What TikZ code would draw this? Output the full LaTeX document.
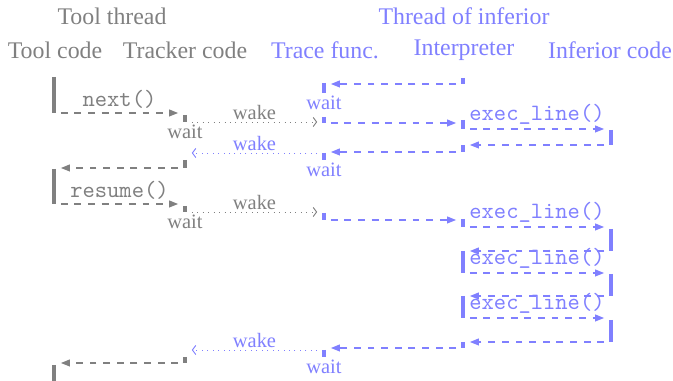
\documentclass[tikz,border=0pt]{standalone}
\usepackage{fontspec}
\setmainfont{Liberation Serif}
\usetikzlibrary{arrows.meta}
\definecolor{toolgray}{RGB}{128,128,128}
\definecolor{infblue}{RGB}{128,128,255}
\tikzset{
  actbar/.style={line width=1.5pt},
  callmsg/.style={dashed,semithick,-{Triangle[length=4pt,width=3pt]},
    shorten <=3pt,shorten >=3pt},
  wakemsg/.style={dotted,-{Straight Barb[length=1.5pt,width=4pt]},
    shorten <=3pt,shorten >=3pt},
  header/.style={font=\fontsize{10.5}{12}\selectfont},
  fname/.style={font=\ttfamily\fontsize{10.3}{12}\selectfont,above,inner sep=1.5pt},
  msglbl/.style={font=\small,above,inner sep=1pt},
  waitlbl/.style={font=\small,anchor=north,inner sep=1pt}
}
\begin{document}
\begin{tikzpicture}[x=0.44pt,y=-0.44pt]
  \useasboundingbox (0,0) rectangle (673,381);
  % headers
  \node[header,toolgray] (tt) at (112,16) {Tool thread};
  \node[header,infblue] (it) at (464,16) {Thread of inferior};
  \node[header,toolgray] (hT) at (55,50) {Tool code};
  \node[header,toolgray] (hK) at (185,50) {Tracker code};
  \node[header,infblue] (hF) at (325,50) {Trace func.};
  \node[header,infblue] (hI) at (464,50) {Interpreter};
  \node[header,infblue] (hC) at (610,50) {Inferior code};
  % activations
  \coordinate (t1a) at (54,77);  \coordinate (t1b) at (54,113);
  \coordinate (t2a) at (54,169); \coordinate (t2b) at (54,204);
  \coordinate (t3a) at (54,365); \coordinate (t3b) at (54,381);
  \coordinate (k1a) at (185,115); \coordinate (k1b) at (185,122);
  \coordinate (k2a) at (185,160); \coordinate (k2b) at (185,168);
  \coordinate (k3a) at (185,206); \coordinate (k3b) at (185,212);
  \coordinate (k4a) at (185,357); \coordinate (k4b) at (185,363);
  \coordinate (f1a) at (324,83);  \coordinate (f1b) at (324,93);
  \coordinate (f2a) at (324,117); \coordinate (f2b) at (324,123);
  \coordinate (f3a) at (324,153); \coordinate (f3b) at (324,160);
  \coordinate (f4a) at (324,213); \coordinate (f4b) at (324,220);
  \coordinate (f5a) at (324,350); \coordinate (f5b) at (324,357);
  \coordinate (i0a) at (463,78);  \coordinate (i0b) at (463,84);
  \coordinate (i1a) at (463,120); \coordinate (i1b) at (463,129);
  \coordinate (i2a) at (463,145); \coordinate (i2b) at (463,152);
  \coordinate (i3a) at (463,219); \coordinate (i3b) at (463,227);
  \coordinate (i4a) at (463,251); \coordinate (i4b) at (463,273);
  \coordinate (i5a) at (463,296); \coordinate (i5b) at (463,318);
  \coordinate (i6a) at (463,342); \coordinate (i6b) at (463,348);
  \coordinate (c1a) at (611,130); \coordinate (c1b) at (611,145);
  \coordinate (c2a) at (611,229); \coordinate (c2b) at (611,251);
  \coordinate (c3a) at (611,274); \coordinate (c3b) at (611,296);
  \coordinate (c4a) at (611,320); \coordinate (c4b) at (611,342);
  \begin{scope}[toolgray]
    \foreach \b in {t1,t2,t3,k1,k2,k3,k4}
      \draw[actbar] (\b a) -- (\b b);
    \draw[callmsg] (t1b) -- (t1b -| k1a) node[fname,midway] (n1) {next()};
    \draw[wakemsg] (k1b) -- (k1b -| f2a) node[msglbl,midway] (w1) {wake};
    \draw[callmsg] (k2b) -- (k2b -| t2a);
    \draw[callmsg] (t2b) -- (t2b -| k3a) node[fname,midway] (n2) {resume()};
    \draw[wakemsg] (k3b) -- (k3b -| f4a) node[msglbl,midway] (w3) {wake};
    \draw[callmsg] (k4b) -- (k4b -| t3a);
    \node[waitlbl] (s1) at (k1b) {wait};
    \node[waitlbl] (s2) at (k3b) {wait};
  \end{scope}
  \begin{scope}[infblue]
    \foreach \b in {f1,f2,f3,f4,f5,i0,i1,i2,i3,i4,i5,i6,c1,c2,c3,c4}
      \draw[actbar] (\b a) -- (\b b);
    \draw[callmsg] (i0b) -- (i0b -| f1a);
    \draw[callmsg] (f2b) -- (f2b -| i1a);
    \draw[callmsg] (i1b) -- (i1b -| c1a) node[fname,midway] (e1) {exec\_line()};
    \draw[callmsg] (c1b) -- (c1b -| i2a);
    \draw[callmsg] (i2b) -- (i2b -| f3a);
    \draw[wakemsg] (f3a) -- (f3a -| k2a) node[msglbl,midway] (w2) {wake};
    \draw[callmsg] (f4b) -- (f4b -| i3a);
    \draw[callmsg] (i3b) -- (i3b -| c2a) node[fname,midway] (e2) {exec\_line()};
    \draw[callmsg] (c2b) -- (c2b -| i4a);
    \draw[callmsg] (i4b) -- (i4b -| c3a) node[fname,midway] (e3) {exec\_line()};
    \draw[callmsg] (c3b) -- (c3b -| i5a);
    \draw[callmsg] (i5b) -- (i5b -| c4a) node[fname,midway] (e4) {exec\_line()};
    \draw[callmsg] (c4b) -- (c4b -| i6a);
    \draw[callmsg] (i6b) -- (i6b -| f5a);
    \draw[wakemsg] (f5a) -- (f5a -| k4a) node[msglbl,midway] (w4) {wake};
    \node[waitlbl] (s3) at (f1b) {wait};
    \node[waitlbl] (s4) at (f3b) {wait};
    \node[waitlbl] (s5) at (f5b) {wait};
  \end{scope}
\end{tikzpicture}
\end{document}
